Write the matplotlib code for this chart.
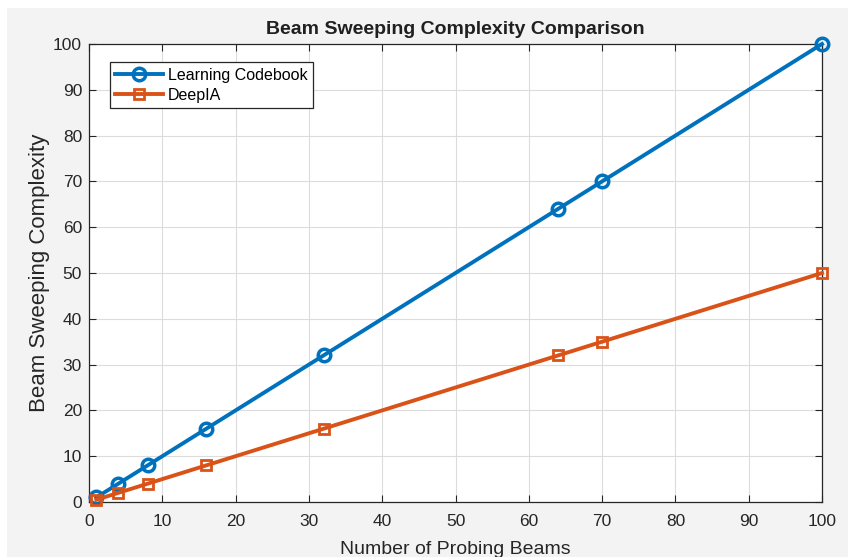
import matplotlib
matplotlib.use("Agg")
import matplotlib.pyplot as plt
from matplotlib.patches import Rectangle

num_beams = [1, 4, 8, 16, 32, 64, 70, 100]
learning_codebook = [1, 4, 8, 16, 32, 64, 70, 100]
deepia = [0.5, 2, 4, 8, 16, 32, 35, 50]
x_ticks = list(range(0, 101, 10))
y_ticks = list(range(0, 101, 10))

plt.rcParams['font.family'] = ['Liberation Sans', 'DejaVu Sans']

W, H = 848, 557
fig = plt.figure(figsize=(W / 100, H / 100), dpi=100, facecolor='white')
bg = Rectangle((7 / W, 0), 1 - 7 / W, 1 - 8 / H, transform=fig.transFigure,
               facecolor='#f3f3f3', edgecolor='none', zorder=-10)
fig.patches.append(bg)

ax = fig.add_axes([89 / W, (H - 502) / H, (822 - 89) / W, (502 - 44) / H])
ax.set_zorder(1)
ax.set_facecolor('white')

ax.plot(num_beams, learning_codebook, color='#0072BD', linewidth=2.8, marker='o',
        markersize=9, markerfacecolor='none', markeredgewidth=2.5,
        label='Learning Codebook', clip_on=False, zorder=3)
ax.plot(num_beams, deepia, color='#D95319', linewidth=2.8, marker='s',
        markersize=7, markerfacecolor='none', markeredgewidth=2.0,
        label='DeepIA', clip_on=False, zorder=3)

ax.set_xlim(0, 100)
ax.set_ylim(0, 100)
ax.set_xticks(x_ticks)
ax.set_yticks(y_ticks)
ax.grid(True, color='#dcdcdc', linewidth=0.8)
ax.set_axisbelow(True)
ax.tick_params(direction='in', length=5, width=0.8, colors='#262626', labelsize=12.5,
               top=True, right=True, labeltop=False, labelright=False)
ax.tick_params(axis='x', pad=9)
ax.tick_params(axis='y', pad=5)
for s in ax.spines.values():
    s.set_color('#262626')
    s.set_linewidth(0.9)

ax.set_title('Beam Sweeping Complexity Comparison', fontsize=14, fontweight='bold',
             color='#202020', pad=7)
ax.set_xlabel('Number of Probing Beams', fontsize=14, color='#262626', labelpad=8)
ax.set_ylabel('Beam Sweeping Complexity', fontsize=16, color='#262626', labelpad=2)

leg = ax.legend(loc='upper left', bbox_to_anchor=(0.028, 0.96), fontsize=11.5,
                frameon=True, fancybox=False, edgecolor='#262626', framealpha=1,
                borderpad=0.35, labelspacing=0.3, handlelength=3.0, handletextpad=0.3,
                borderaxespad=0)
leg.get_frame().set_linewidth(0.9)

fig.savefig('out.png', dpi=100, facecolor=fig.get_facecolor())
